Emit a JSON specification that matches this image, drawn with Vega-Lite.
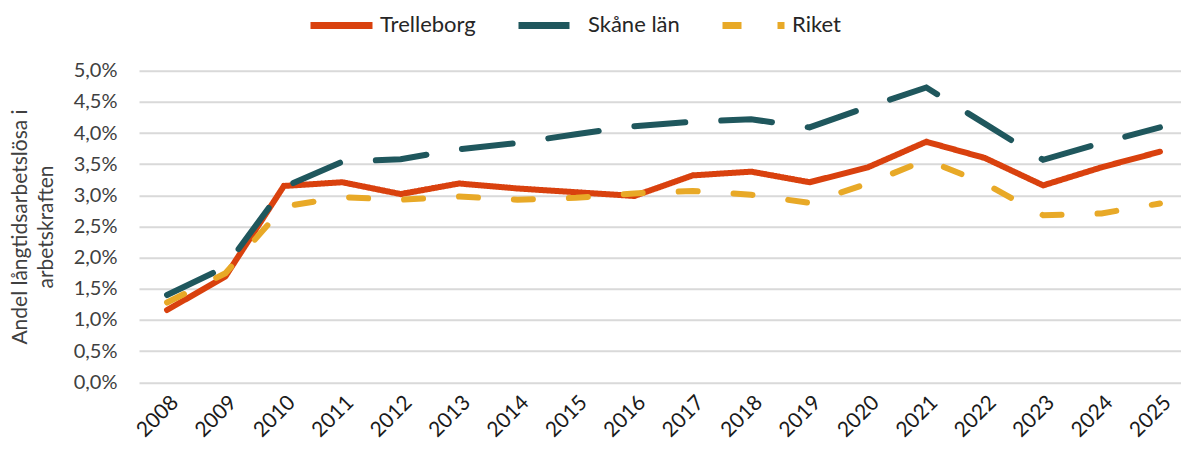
{
  "$schema": "https://vega.github.io/schema/vega-lite/v6.json",
  "autosize": "none",
  "width": 1042,
  "height": 311.6,
  "padding": {"left": 139, "top": 70.7, "right": 0, "bottom": 67.7},
  "background": "white",
  "config": {
    "view": {"stroke": null},
    "font": "Lato",
    "axis": {"labelFont": "Lato", "titleFont": "Lato"},
    "legend": {"labelFont": "Lato"}
  },
  "data": {
    "values": [
      {"year": 2008, "region": "Trelleborg", "value": 1.16},
      {"year": 2009, "region": "Trelleborg", "value": 1.70},
      {"year": 2010, "region": "Trelleborg", "value": 3.15},
      {"year": 2011, "region": "Trelleborg", "value": 3.21},
      {"year": 2012, "region": "Trelleborg", "value": 3.02},
      {"year": 2013, "region": "Trelleborg", "value": 3.19},
      {"year": 2014, "region": "Trelleborg", "value": 3.11},
      {"year": 2015, "region": "Trelleborg", "value": 3.05},
      {"year": 2016, "region": "Trelleborg", "value": 2.99},
      {"year": 2017, "region": "Trelleborg", "value": 3.32},
      {"year": 2018, "region": "Trelleborg", "value": 3.38},
      {"year": 2019, "region": "Trelleborg", "value": 3.21},
      {"year": 2020, "region": "Trelleborg", "value": 3.45},
      {"year": 2021, "region": "Trelleborg", "value": 3.86},
      {"year": 2022, "region": "Trelleborg", "value": 3.60},
      {"year": 2023, "region": "Trelleborg", "value": 3.16},
      {"year": 2024, "region": "Trelleborg", "value": 3.45},
      {"year": 2025, "region": "Trelleborg", "value": 3.70},
      {"year": 2008, "region": "Skåne län", "value": 1.40},
      {"year": 2009, "region": "Skåne län", "value": 1.85},
      {"year": 2010, "region": "Skåne län", "value": 3.13},
      {"year": 2011, "region": "Skåne län", "value": 3.54},
      {"year": 2012, "region": "Skåne län", "value": 3.58},
      {"year": 2013, "region": "Skåne län", "value": 3.74},
      {"year": 2014, "region": "Skåne län", "value": 3.84},
      {"year": 2015, "region": "Skåne län", "value": 3.98},
      {"year": 2016, "region": "Skåne län", "value": 4.11},
      {"year": 2017, "region": "Skåne län", "value": 4.18},
      {"year": 2018, "region": "Skåne län", "value": 4.22},
      {"year": 2019, "region": "Skåne län", "value": 4.09},
      {"year": 2020, "region": "Skåne län", "value": 4.42},
      {"year": 2021, "region": "Skåne län", "value": 4.73},
      {"year": 2022, "region": "Skåne län", "value": 4.15},
      {"year": 2023, "region": "Skåne län", "value": 3.57},
      {"year": 2024, "region": "Skåne län", "value": 3.84},
      {"year": 2025, "region": "Skåne län", "value": 4.09},
      {"year": 2008, "region": "Riket", "value": 1.28},
      {"year": 2009, "region": "Riket", "value": 1.75},
      {"year": 2010, "region": "Riket", "value": 2.82},
      {"year": 2011, "region": "Riket", "value": 2.97},
      {"year": 2012, "region": "Riket", "value": 2.93},
      {"year": 2013, "region": "Riket", "value": 2.98},
      {"year": 2014, "region": "Riket", "value": 2.93},
      {"year": 2015, "region": "Riket", "value": 2.96},
      {"year": 2016, "region": "Riket", "value": 3.03},
      {"year": 2017, "region": "Riket", "value": 3.07},
      {"year": 2018, "region": "Riket", "value": 3.01},
      {"year": 2019, "region": "Riket", "value": 2.88},
      {"year": 2020, "region": "Riket", "value": 3.19},
      {"year": 2021, "region": "Riket", "value": 3.57},
      {"year": 2022, "region": "Riket", "value": 3.19},
      {"year": 2023, "region": "Riket", "value": 2.68},
      {"year": 2024, "region": "Riket", "value": 2.71},
      {"year": 2025, "region": "Riket", "value": 2.87}
    ]
  },
  "mark": {"type": "line", "strokeWidth": 6, "strokeCap": "round", "strokeJoin": "miter"},
  "encoding": {
    "x": {
      "field": "year",
      "type": "quantitative",
      "scale": {"domain": [2007.52, 2025.36], "nice": false, "zero": false},
      "axis": {
        "values": [2008, 2009, 2010, 2011, 2012, 2013, 2014, 2015, 2016, 2017, 2018, 2019, 2020, 2021, 2022, 2023, 2024, 2025],
        "format": "d",
        "labelAngle": -45,
        "labelFontSize": 21,
        "labelColor": "#1a1a1a",
        "labelPadding": 9,
        "grid": false,
        "domain": false,
        "ticks": false,
        "title": null,
        "labelOverlap": false
      }
    },
    "y": {
      "field": "value",
      "type": "quantitative",
      "scale": {"domain": [0, 5], "nice": false},
      "axis": {
        "values": [0, 0.5, 1, 1.5, 2, 2.5, 3, 3.5, 4, 4.5, 5],
        "labelExpr": "replace(format(datum.value, '.1f'), '.', ',') + '%'",
        "labelFontSize": 20,
        "labelColor": "#404040",
        "labelPadding": 22,
        "grid": true,
        "gridColor": "#D9D9D9",
        "gridWidth": 2,
        "domain": false,
        "ticks": false,
        "title": ["Andel långtidsarbetslösa i", "arbetskraften"],
        "titleFontSize": 21,
        "titleFontWeight": "normal",
        "titleColor": "#404040",
        "titlePadding": 17,
        "titleLineHeight": 26
      }
    },
    "color": {
      "field": "region",
      "type": "nominal",
      "sort": ["Trelleborg", "Skåne län", "Riket"],
      "scale": {"domain": ["Trelleborg", "Skåne län", "Riket"], "range": ["#D9410E", "#1F575D", "#E8A927"]},
      "legend": {
        "orient": "none",
        "legendX": 168,
        "legendY": -80,
        "direction": "horizontal",
        "title": null,
        "symbolType": "stroke",
        "symbolSize": 3844,
        "symbolStrokeWidth": 7,
        "labelFontSize": 22,
        "labelColor": "#262626",
        "labelOffset": 4,
        "columnPadding": 28
      }
    },
    "strokeDash": {
      "field": "region",
      "type": "nominal",
      "sort": ["Trelleborg", "Skåne län", "Riket"],
      "scale": {"domain": ["Trelleborg", "Skåne län", "Riket"], "range": [[1, 0], [51, 36], [19, 36]]},
      "legend": null
    },
    "order": {"field": "year", "type": "quantitative"}
  }
}
